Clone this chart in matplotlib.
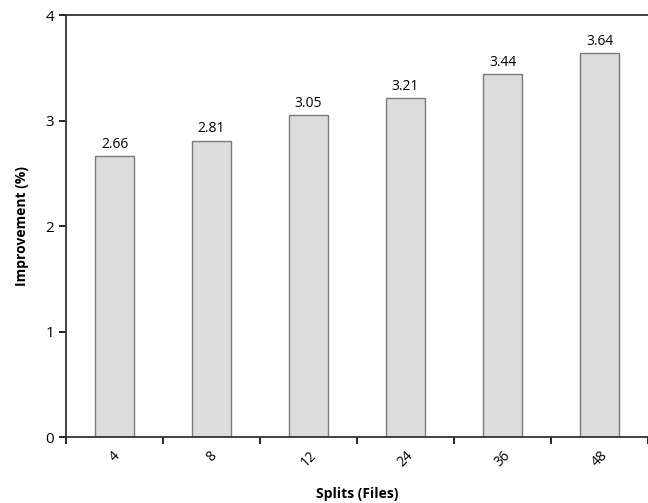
import numpy as np
import matplotlib.pyplot as plt

# Data
splits = ['4', '8', '12', '24', '36', '48']
improvement = [2.66, 2.81, 3.05, 3.21, 3.44, 3.64]

plt.rcParams['font.family'] = ['Open Sans', 'DejaVu Sans']

fig = plt.figure(figsize=(6.48, 5.03), dpi=100)
ax = fig.add_axes([0.102, 0.131, 0.898, 0.839])

x = np.arange(len(splits))
ax.bar(x, improvement, width=0.4, color='#dcdcdc', edgecolor='#7a7a7a', linewidth=1)

for xi, v in zip(x, improvement):
    ax.text(xi, v + 0.04, f'{v:.2f}', ha='center', va='bottom', fontsize=10)

ax.set_xlim(-0.5, len(splits) - 0.5)
ax.set_ylim(0, 4)
ax.set_yticks([0, 1, 2, 3, 4])

# category labels at centres, tick marks at boundaries
ax.set_xticks(x)
ax.set_xticklabels(splits, rotation=45, fontsize=10)
ax.tick_params(axis='x', which='major', length=0, pad=8)
ax.set_xticks(np.arange(-0.5, len(splits), 1), minor=True)
ax.tick_params(axis='x', which='minor', length=5, width=1.2, direction='out')
ax.tick_params(axis='y', length=5, width=1.2, direction='out', labelsize=11)

for side in ['left', 'bottom', 'top']:
    ax.spines[side].set_linewidth(1.3)
    ax.spines[side].set_color('#333333')
ax.spines['right'].set_visible(False)

ax.set_xlabel('Splits (Files)', fontweight='bold', fontsize=10, labelpad=12)
ax.set_ylabel('Improvement (%)', fontweight='bold', fontsize=10, labelpad=12)

fig.savefig('out.png', dpi=100)
